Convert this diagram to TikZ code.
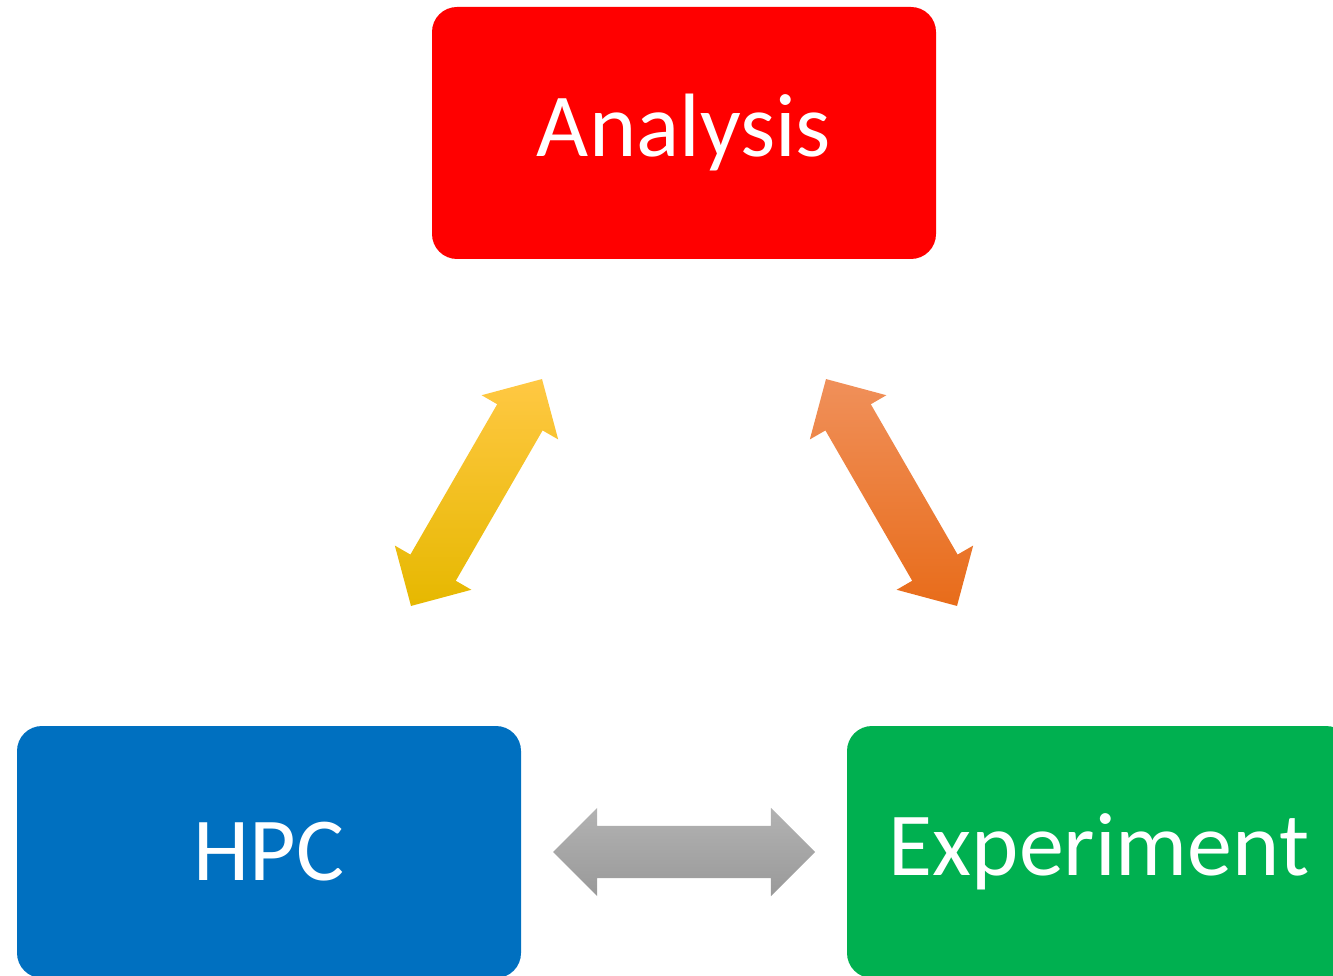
\documentclass[tikz,border=0pt]{standalone}
\usepackage{fontspec}
\setmainfont{Carlito}
\usetikzlibrary{shapes.arrows,calc}

\definecolor{boxred}{HTML}{FF0000}
\definecolor{boxblue}{HTML}{0070C0}
\definecolor{boxgreen}{HTML}{00B050}
\definecolor{goldtop}{HTML}{FFC843}
\definecolor{goldmid}{HTML}{FFC000}
\definecolor{goldbot}{HTML}{E6B800}
\definecolor{orangetop}{HTML}{F0905A}
\definecolor{orangemid}{HTML}{F27E30}
\definecolor{orangebot}{HTML}{E86C1A}

\begin{document}
\begin{tikzpicture}[x=1pt, y=-1pt,
                    main node/.style={rectangle,rounded corners=25pt,minimum width=504pt,minimum height=252pt,
                                      text=white,font=\fontsize{90}{100}\selectfont},
                    link/.style={double arrow,minimum height=262pt,minimum width=88pt,
                                 double arrow head extend=18pt,inner sep=0pt,inner ysep=26pt}]

  \useasboundingbox (0,0) rectangle (1333,976);

  \node[main node,fill=boxred] (analysis) at (684,133) {Analysis};
  \node[main node,fill=boxblue] (hpc) at (269,852) {HPC};
  \node[main node,fill=boxgreen] (experiment) at (1099,852) {Experiment};

  \node[link,rotate=60,shading angle=-60,top color=goldtop,middle color=goldmid,
        bottom color=goldbot] (hpc-analysis) at ($(hpc)!0.5!(analysis)$) {};
  \node[link,rotate=-60,shading angle=60,top color=orangetop,middle color=orangemid,
        bottom color=orangebot] (analysis-experiment) at ($(analysis)!0.5!(experiment)$) {};
  \node[link,top color=black!30,bottom color=black!40] (hpc-experiment) at ($(hpc)!0.5!(experiment)$) {};

\end{tikzpicture}
\end{document}
